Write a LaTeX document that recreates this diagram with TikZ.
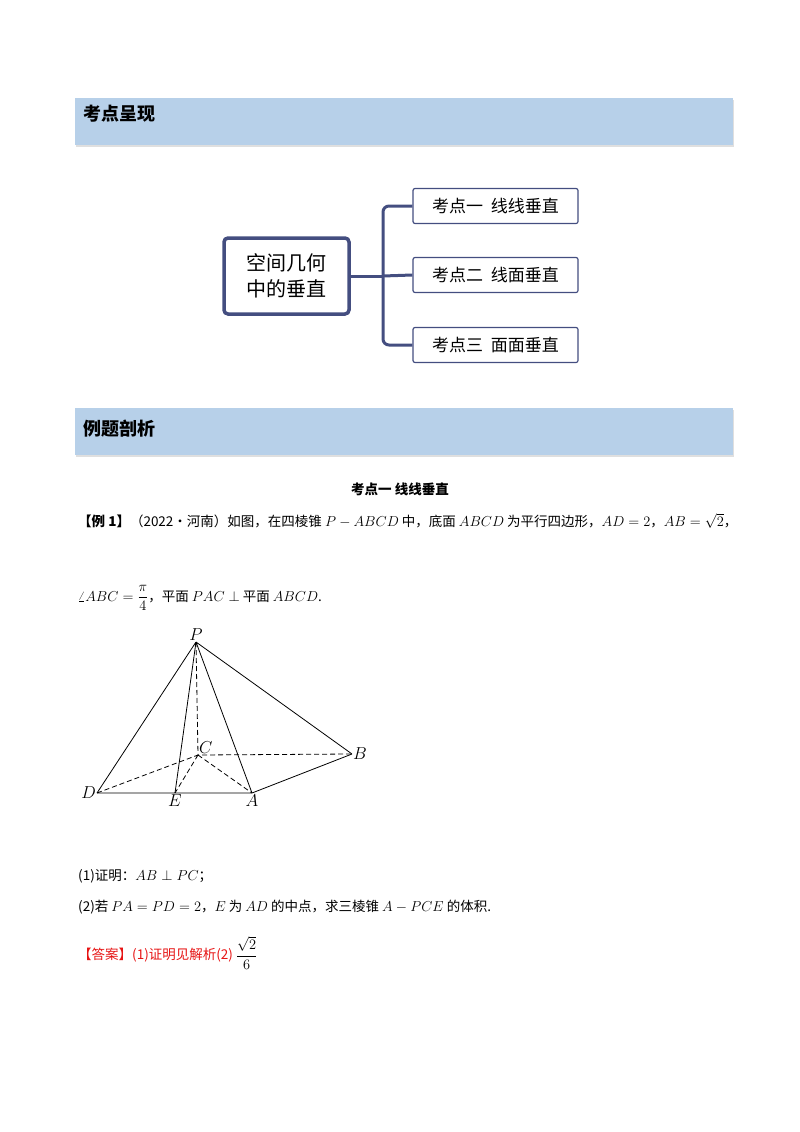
\documentclass[tikz,border=0pt]{standalone}
\usepackage{fontspec}
\newfontfamily\cjk{Noto Sans CJK SC}
\usetikzlibrary{shadows}
\definecolor{barblue}{RGB}{183,208,233}
\definecolor{navy}{RGB}{68,78,128}
\definecolor{ansred}{RGB}{230,20,20}
\tikzset{
  bar/.style={fill=barblue,draw=none,drop shadow={shadow xshift=1pt,shadow yshift=-2pt,opacity=.25}},
  bartitle/.style={anchor=west,font=\cjk\bfseries\fontsize{18}{20}\selectfont},
  leaf/.style={draw=navy,line width=1.2pt,rounded corners=2pt,minimum width=165pt,minimum height=35pt,font=\cjk\fontsize{17}{19}\selectfont,fill=white},
  root/.style={draw=navy,line width=3.5pt,rounded corners=4pt,minimum width=125pt,minimum height=76pt,align=center,font=\cjk\fontsize{20}{26}\selectfont},
  conn/.style={draw=navy,line width=3pt,rounded corners=6pt},
  body/.style={anchor=west,font=\cjk\fontsize{13.5}{16}\selectfont,inner sep=1pt},
  solid edge/.style={line width=0.8pt},
  hid/.style={line width=0.8pt,dash pattern=on 5pt off 3pt},
  pt/.style={font=\fontsize{17}{19}\selectfont,inner sep=1pt}
}
\begin{document}
\begin{tikzpicture}[x=1pt,y=-1pt]
\useasboundingbox (0,0) rectangle (800,1132);
% bars
\path[bar] (75,98) rectangle (733,145);
\node[bartitle] (t1) at (80,114) {考点呈现};
\path[bar] (75,408) rectangle (733,455);
\node[bartitle] (t2) at (80,429) {例题剖析};
% mind map
\node[root] (r) at (286.5,276) {空间几何\\中的垂直};
\node[leaf] (k1) at (495.5,206) {考点一\ \ 线线垂直};
\node[leaf] (k2) at (495.5,275) {考点二\ \ 线面垂直};
\node[leaf] (k3) at (495.5,345) {考点三\ \ 面面垂直};
\coordinate (sp) at (383,276);
\draw[conn] (r.east) -- (sp);
\draw[conn] (k1.west) -| (sp) |- (k3.west);
\draw[conn] (sp) -- (k2.west);
% text
\node[font=\cjk\bfseries\fontsize{13.5}{16}\selectfont] (h) at (400,489) {考点一\ 线线垂直};
\node[body] (l1) at (77,521) {\textbf{【例 1】}（2022·河南）如图，在四棱锥 $P-ABCD$ 中，底面 $ABCD$ 为平行四边形，$AD=2$，$AB=\sqrt{2}$，};
\node[body] (l2) at (77,598) {$\displaystyle\angle ABC=\frac{\pi}{4}$，平面 $PAC\perp$ 平面 $ABCD$.};
% figure
\coordinate (P) at (196,642);
\coordinate (C) at (198,755);
\coordinate (B) at (352,754);
\coordinate (D) at (97,793);
\coordinate (E) at (175,793);
\coordinate (A) at (252,793);
\draw[solid edge] (P) -- (D) (P) -- (E) (P) -- (A) (P) -- (B) (D) -- (A) -- (B);
\draw[hid] (P) -- (C) (D) -- (C) -- (B) (C) -- (E) (C) -- (A);
\node[pt,above] (lP) at (P) {$P$};
\node[pt,above right] (lC) at (C) {$C$};
\node[pt,right] (lB) at (B) {$B$};
\node[pt,left] (lD) at (D) {$D$};
\node[pt,below] (lE) at (E) {$E$};
\node[pt,below] (lA) at (A) {$A$};
\node[body] (q1) at (77,876) {(1)证明：$AB\perp PC$；};
\node[body] (q2) at (77,907) {(2)若 $PA=PD=2$，$E$ 为 $AD$ 的中点，求三棱锥 $A-PCE$ 的体积.};
\node[body,text=ansred] (ans) at (77,953) {【答案】(1)证明见解析(2) {\color{black}$\displaystyle\frac{\sqrt{2}}{6}$}};
\end{tikzpicture}
\end{document}
